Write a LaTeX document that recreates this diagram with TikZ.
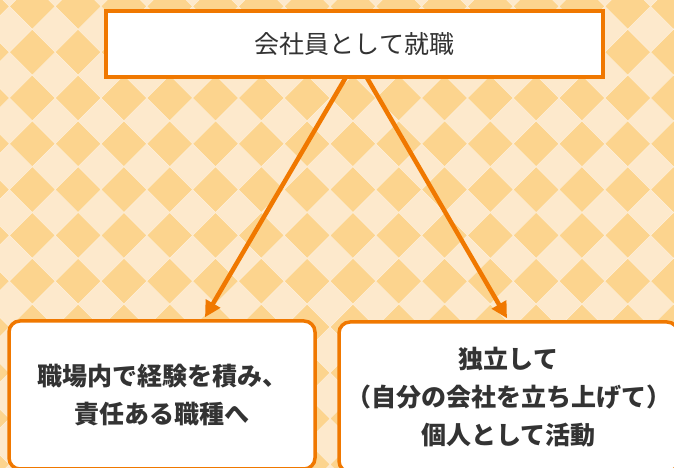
\documentclass[tikz,border=0pt]{standalone}
\usepackage{fontspec}
\usepackage{xcolor}
\setmainfont{Noto Sans CJK JP}
\usetikzlibrary{arrows.meta,positioning}

\definecolor{bglight}{RGB}{253,233,204}
\definecolor{bgdark}{RGB}{252,212,142}
\definecolor{bgline}{RGB}{254,241,222}
\definecolor{boxline}{RGB}{240,120,0}
\definecolor{txtgray}{RGB}{51,51,51}

\begin{document}
\begin{tikzpicture}[
  x=1pt, y=1pt,
  every node/.style={text=txtgray},
  topbox/.style={rectangle, draw=boxline, fill=white, line width=4pt, minimum width=497pt, minimum height=66pt, inner sep=0pt, font=\fontsize{25}{38}\selectfont},
  endbox/.style={rectangle, draw=boxline, fill=white, line width=3.5pt, rounded corners=11pt, inner sep=0pt, align=center, font=\fontsize{25}{38}\selectfont\bfseries},
  arrow/.style={-{Triangle[length=16pt, width=16pt]}, draw=boxline, line width=4.5pt}
]
\useasboundingbox (0,0) rectangle (674,468);
\clip (0,0) rectangle (674,468);

% Background: diamond checkerboard
\fill[bglight] (0,0) rectangle (674,468);
\foreach \i in {-1,...,15}{
  \foreach \j in {-2,...,10}{
    \fill[bgdark, draw=bgline, line width=0.5pt]
      ({32.3+45.8*\i}, {415.8-45.8*\j}) +(-22.9,0) -- +(0,22.9) -- +(22.9,0) -- +(0,-22.9) -- cycle;
  }
}

% Boxes
\node[topbox] (job) at (354.5,424) {会社員として就職};
\node[endbox, minimum width=306pt, minimum height=148pt] (career) at (162,73)
  {職場内で経験を積み、\\責任ある職種へ};
\node[endbox, minimum width=339pt, minimum height=150pt] (indep) at (508.5,71)
  {独立して\\（自分の会社を立ち上げて）\\個人として活動};

% Arrows
\draw[arrow] ([xshift=-8.5pt, yshift=2pt]job.south) -- ([xshift=43pt, yshift=2pt]career.north);
\draw[arrow] ([xshift=12pt, yshift=2pt]job.south) -- ([xshift=-1.5pt, yshift=2pt]indep.north);

\end{tikzpicture}
\end{document}
